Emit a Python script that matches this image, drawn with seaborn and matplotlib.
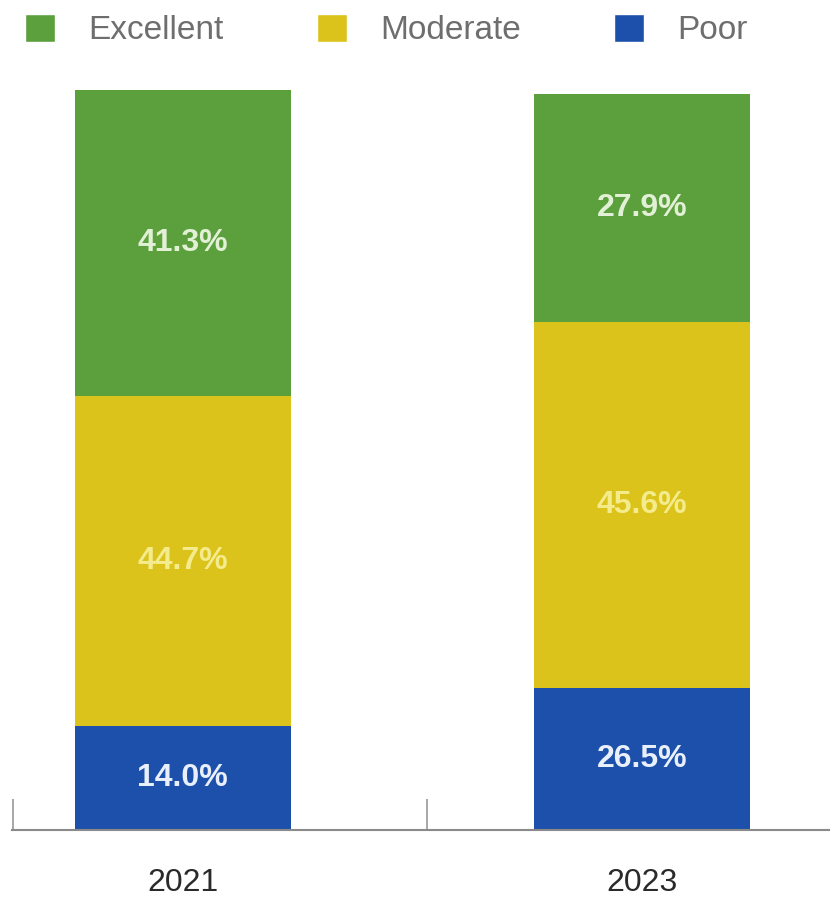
import seaborn as sns
import matplotlib.pyplot as plt
import pandas as pd
from matplotlib.patches import Patch

# data
years = ["2021", "2023"]
# printed labels
excellent_lbl = [41.3, 27.9]
moderate_lbl = [44.7, 45.6]
poor_lbl = [14.0, 26.5]
# segment heights as drawn in the original (2023 bar is not drawn to scale there)
excellent = [41.3, 30.8]
moderate = [44.7, 49.5]
poor = [14.0, 19.2]

colors = {"Excellent": "#5ca03e", "Moderate": "#dcc31b", "Poor": "#1c50aa"}

df = pd.DataFrame({"year": years, "Excellent": excellent, "Moderate": moderate, "Poor": poor})
df["top_moderate"] = df["Poor"] + df["Moderate"]
df["top_excellent"] = df["top_moderate"] + df["Excellent"]

sns.set_style("white")
plt.rcParams['font.family'] = ['Liberation Sans', 'DejaVu Sans']

fig = plt.figure(figsize=(8.3, 9), dpi=100)
ax = fig.add_axes([0.0145, 0.0778, 0.9855, 0.8222])

# stacked bars: draw cumulative totals from the top layer down
for col in ["top_excellent", "top_moderate", "Poor"]:
    key = {"top_excellent": "Excellent", "top_moderate": "Moderate", "Poor": "Poor"}[col]
    sns.barplot(data=df, x="year", y=col, color=colors[key], width=0.47,
                saturation=1, linewidth=0, ax=ax)

# segment labels
for i, row in df.iterrows():
    ax.text(i, row["Poor"] / 2, f"{poor_lbl[i]:.1f}%", ha="center", va="center",
            color="#eaf0fb", fontsize=23, fontweight="bold")
    ax.text(i, row["Poor"] + row["Moderate"] / 2, f"{moderate_lbl[i]:.1f}%", ha="center",
            va="center", color="#f4eb8c", fontsize=23, fontweight="bold")
    ax.text(i, row["top_moderate"] + row["Excellent"] / 2, f"{excellent_lbl[i]:.1f}%",
            ha="center", va="center", color="#e2f0d6", fontsize=23, fontweight="bold")

ax.set_xlim(-0.372, 1.41)
ax.set_ylim(0, 100)
ax.set_xlabel("")
ax.set_ylabel("")
ax.set_yticks([])
sns.despine(ax=ax, left=True, top=True, right=True)
ax.spines["bottom"].set_color("#8a8a8a")
ax.spines["bottom"].set_linewidth(1.5)

ax.tick_params(axis="x", which="major", bottom=False, pad=24, labelsize=23,
               labelcolor="#2a2a2a")
ax.set_xticks([-0.37, 0.533], minor=True)
ax.tick_params(axis="x", which="minor", bottom=True, direction="in", length=22,
               width=1.3, color="#a0a0a0")

handles = [Patch(facecolor=colors[k], label=k) for k in ["Excellent", "Moderate", "Poor"]]
fig.legend(handles=handles, loc="center left", bbox_to_anchor=(0.030, 1 - 30 / 900), ncol=3,
           frameon=False, fontsize=24, labelcolor="#6e6e6e", handlelength=0.9,
           handleheight=0.9, handletextpad=1.0, columnspacing=2.8, borderpad=0,
           borderaxespad=0)

fig.savefig("out.png", dpi=100)
